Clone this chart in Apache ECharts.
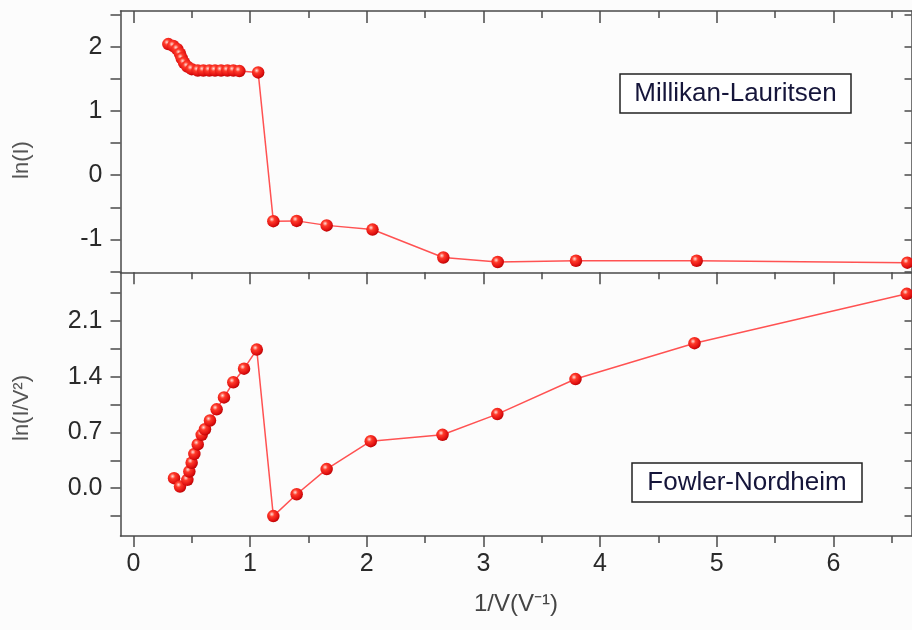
<!DOCTYPE html>
<html lang="en">
<head>
  <meta charset="UTF-8">
  <title>Millikan-Lauritsen / Fowler-Nordheim</title>
  <script src="https://cdn.jsdelivr.net/npm/echarts@6/dist/echarts.min.js"></script>
  <style>
    html, body { margin: 0; padding: 0; background: #fcfcfc; }
  </style>
</head>
<body>
<div id="main" style="width: 912px;height:630px;"></div>
<script type="text/javascript">
  // top panel: ln(I) vs 1/V
  var mlX = [0.30, 0.343, 0.377, 0.40, 0.415, 0.435, 0.463, 0.50, 0.552, 0.60, 0.651, 0.70, 0.752, 0.806, 0.857, 0.909,
             1.07, 1.20, 1.40, 1.657, 2.05, 2.657, 3.123, 3.794, 4.829, 6.634];
  var mlY = [2.04, 2.01, 1.96, 1.89, 1.82, 1.75, 1.69, 1.65, 1.63, 1.63, 1.63, 1.63, 1.63, 1.63, 1.63, 1.62,
             1.60, -0.715, -0.71, -0.78, -0.845, -1.28, -1.35, -1.33, -1.33, -1.36];

  // bottom panel: ln(I/V^2) vs 1/V
  var fnX = [0.349, 0.40, 0.463, 0.48, 0.50, 0.523, 0.552, 0.586, 0.614, 0.657, 0.714, 0.777, 0.857, 0.949, 1.058,
             1.20, 1.40, 1.657, 2.035, 2.65, 3.12, 3.79, 4.81, 6.63];
  var fnY = [0.126, 0.02, 0.105, 0.21, 0.32, 0.43, 0.55, 0.67, 0.74, 0.85, 0.99, 1.14, 1.33, 1.50, 1.74,
             -0.35, -0.076, 0.24, 0.59, 0.67, 0.93, 1.37, 1.82, 2.44];

  // ticks and labels
  var xMajor = [0, 1, 2, 3, 4, 5, 6];
  var xMinor = [0.5, 1.5, 2.5, 3.5, 4.5, 5.5, 6.5];
  var mlTicks = [-1.5, -1, -0.5, 0, 0.5, 1, 1.5, 2, 2.5];
  var mlLabels = [-1, 0, 1, 2];
  var fnTicks = [-0.35, 0, 0.35, 0.7, 1.05, 1.4, 1.75, 2.1, 2.45];
  var fnLabels = [0, 0.7, 1.4, 2.1];

  var axisColor = '#4a4a4a';
  var font = '"Liberation Sans", Arial, sans-serif';

  function pairs(xs, ys) {
    var out = [];
    for (var i = 0; i < xs.length; i++) out.push([xs[i], ys[i]]);
    return out;
  }

  var ball = {
    type: 'radial', x: 0.38, y: 0.35, r: 0.7,
    colorStops: [
      { offset: 0, color: '#ffe0d8' },
      { offset: 0.3, color: '#ff3a2a' },
      { offset: 0.75, color: '#e01010' },
      { offset: 1, color: '#b00000' }
    ]
  };

  // one x axis: which grid, top/bottom, tick values, tick length, inside or not
  function xAx(grid, pos, ticks, len, inside, line, labels) {
    return {
      type: 'value', gridIndex: grid, position: pos, min: -0.11, max: 6.67,
      axisLine: { show: line, onZero: false, lineStyle: { color: axisColor, width: 1.5 } },
      axisTick: { show: true, inside: inside, length: len, customValues: ticks,
                  lineStyle: { color: axisColor, width: 1.5 } },
      axisLabel: labels ? { show: true, customValues: labels, fontSize: 25, color: '#2a2a2a',
                            fontFamily: font, margin: 16 } : { show: false },
      splitLine: { show: false }
    };
  }

  function yAx(grid, pos, min, max, ticks, labels, fmt) {
    var left = pos === 'left';
    return {
      type: 'value', gridIndex: grid, position: pos, min: min, max: max,
      axisLine: { show: true, onZero: false, lineStyle: { color: axisColor, width: 1.5 } },
      axisTick: { show: true, inside: !left, length: left ? 10 : 7, customValues: ticks,
                  lineStyle: { color: axisColor, width: 1.5 } },
      axisLabel: left ? { show: true, customValues: labels, fontSize: 25, color: '#2a2a2a',
                          fontFamily: font, margin: 18, formatter: fmt } : { show: false },
      splitLine: { show: false }
    };
  }

  var bottomX = xAx(1, 'bottom', xMajor, 11, false, true, xMajor);
  bottomX.name = '1/V(V\u207B\u00B9)';
  bottomX.nameLocation = 'middle';
  bottomX.nameGap = 56;
  bottomX.nameTextStyle = { fontSize: 24, color: '#444', fontFamily: font };

  var myChart = echarts.init(document.getElementById('main'));
  myChart.setOption({
    backgroundColor: '#fcfcfc',
    animation: false,
    grid: [
      { left: 120.5, right: 0.5, top: 11, height: 261.3 },
      { left: 120.5, right: 0.5, top: 272.3, height: 263.7 }
    ],
    xAxis: [
      xAx(0, 'top', xMajor, 12, true, true),
      xAx(0, 'top', xMinor, 7, true, false),
      xAx(0, 'bottom', xMajor, 12, false, true),
      xAx(0, 'bottom', xMinor, 7, false, false),
      bottomX,
      xAx(1, 'bottom', xMinor, 7, false, false)
    ],
    yAxis: [
      yAx(0, 'left', -1.51, 2.555, mlTicks, mlLabels, function (v) { return String(v); }),
      yAx(0, 'right', -1.51, 2.555, mlTicks),
      yAx(1, 'left', -0.6, 2.71, fnTicks, fnLabels, function (v) { return v.toFixed(1); }),
      yAx(1, 'right', -0.6, 2.71, fnTicks)
    ],
    series: [
      {
        name: 'Millikan-Lauritsen', type: 'line', xAxisIndex: 0, yAxisIndex: 0,
        data: pairs(mlX, mlY), symbol: 'circle', symbolSize: 12.5,
        lineStyle: { color: '#ff5252', width: 1.5 },
        itemStyle: { color: ball }
      },
      {
        name: 'Fowler-Nordheim', type: 'line', xAxisIndex: 4, yAxisIndex: 2,
        data: pairs(fnX, fnY), symbol: 'circle', symbolSize: 12.5,
        lineStyle: { color: '#ff5252', width: 1.5 },
        itemStyle: { color: ball }
      }
    ],
    graphic: [
      {
        type: 'text', x: 22, y: 160, rotation: Math.PI / 2,
        style: { text: 'ln(I)', fontSize: 22, fontFamily: font, fill: '#555', align: 'center', verticalAlign: 'middle' }
      },
      {
        type: 'text', x: 22, y: 408, rotation: Math.PI / 2,
        style: { text: 'ln(I/V\u00B2)', fontSize: 22, fontFamily: font, fill: '#555', align: 'center', verticalAlign: 'middle' }
      },
      {
        type: 'group', x: 620, y: 74,
        children: [
          { type: 'rect', shape: { x: 0, y: 0, width: 231, height: 39 },
            style: { fill: '#ffffff', stroke: '#222', lineWidth: 1.5 } },
          { type: 'text', x: 115.5, y: 20,
            style: { text: 'Millikan-Lauritsen', fontSize: 26, fontFamily: font, fill: '#15153a',
                     align: 'center', verticalAlign: 'middle' } }
        ]
      },
      {
        type: 'group', x: 632, y: 463,
        children: [
          { type: 'rect', shape: { x: 0, y: 0, width: 230, height: 39 },
            style: { fill: '#ffffff', stroke: '#222', lineWidth: 1.5 } },
          { type: 'text', x: 115, y: 20,
            style: { text: 'Fowler-Nordheim', fontSize: 26, fontFamily: font, fill: '#15153a',
                     align: 'center', verticalAlign: 'middle' } }
        ]
      }
    ]
  });
</script>
</body>
</html>
